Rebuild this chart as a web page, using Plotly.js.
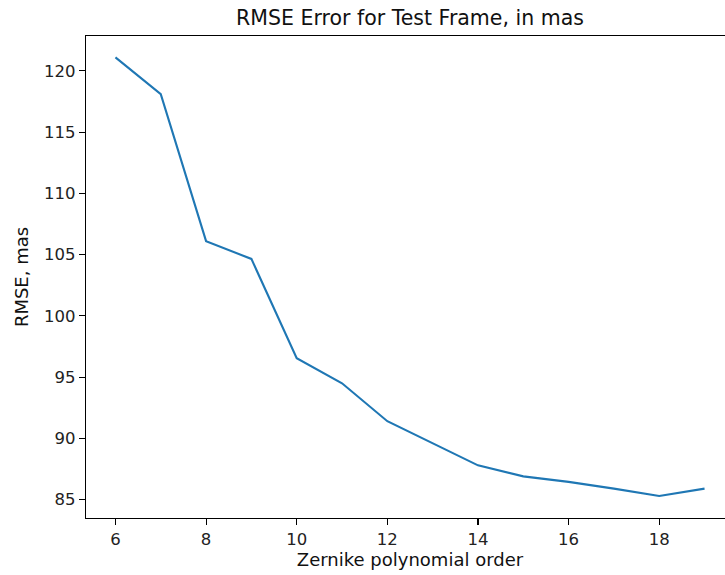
<!DOCTYPE html>
<html><head><meta charset="utf-8">
<script src="https://cdn.plot.ly/plotly-3.0.1.min.js"></script>
<style>html,body{margin:0;padding:0;overflow:hidden;background:#fff}#chart{width:770px;height:575px}</style>
</head><body><div id="chart"></div>
<script>
const order = [6,7,8,9,10,11,12,13,14,15,16,17,18,19];
const rmse = [121.1,118.1,106.1,104.65,96.55,94.5,91.4,89.6,87.8,86.9,86.45,85.9,85.3,85.9];
const xTicks = [6,8,10,12,14,16,18];
const yTicks = [85,90,95,100,105,110,115,120];
const font = 'DejaVu Sans, sans-serif';
Plotly.newPlot('chart', [{
  x: order, y: rmse, type: 'scatter', mode: 'lines',
  line: {color: '#1f77b4', width: 2.1}
}], {
  width: 770, height: 575,
  margin: {l: 86, r: 36, t: 36, b: 57},
  paper_bgcolor: '#fff', plot_bgcolor: '#fff',
  font: {family: font, size: 16.5, color: '#222'},
  title: {text: 'RMSE Error for Test Frame, in mas', font: {family: font, size: 20.5, color: '#111'},
          xref: 'paper', x: 0.5, xanchor: 'center', yref: 'container', y: 1 - 17.8/575, yanchor: 'middle'},
  showlegend: false,
  xaxis: {range: [5.35, 19.65], tickvals: xTicks, ticktext: xTicks.map(String),
          showgrid: false, zeroline: false, showline: true, mirror: true, linecolor: '#000', linewidth: 1.1,
          ticks: 'outside', ticklen: 6, tickcolor: '#000', tickwidth: 1.1,
          tickfont: {family: font, size: 16.5, color: '#222'},
          title: {text: 'Zernike polynomial order', font: {family: font, size: 18, color: '#111'}, standoff: 4}},
  yaxis: {range: [83.5, 122.85], tickvals: yTicks, ticktext: yTicks.map(String),
          showgrid: false, zeroline: false, showline: true, mirror: true, linecolor: '#000', linewidth: 1.1,
          ticks: 'outside', ticklen: 6, tickcolor: '#000', tickwidth: 1.1,
          tickfont: {family: font, size: 16.5, color: '#222'},
          title: {text: 'RMSE, mas', font: {family: font, size: 18, color: '#111'}, standoff: 10}}
}, {displayModeBar: false, staticPlot: true});
</script></body></html>
